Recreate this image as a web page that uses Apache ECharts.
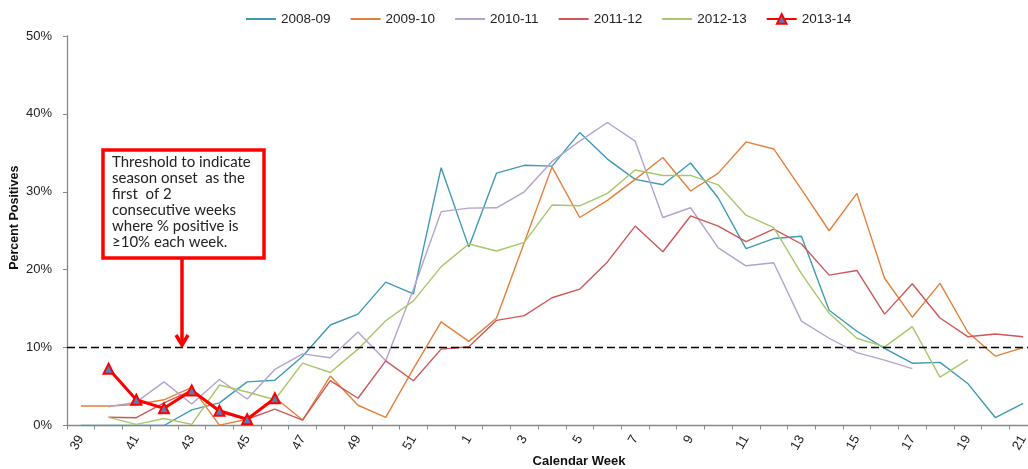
<!DOCTYPE html>
<html>
<head>
<meta charset="utf-8">
<script src="https://cdn.jsdelivr.net/npm/echarts@6/dist/echarts.min.js"></script>
<style>
html,body{margin:0;padding:0;background:#fff;}
#chart{width:1028px;height:469px;}
</style>
</head>
<body>
<div id="chart"></div>
<script>
var weeks = ['39','40','41','42','43','44','45','46','47','48','49','50','51','52',
  '1','2','3','4','5','6','7','8','9','10','11','12','13','14','15','16','17','18','19','20','21'];
var yTicks = [0,10,20,30,40,50];
var seasonNames = ['2008-09','2009-10','2010-11','2011-12','2012-13','2013-14'];
var s0809 = [0,0,0,0,2.0,2.9,5.6,5.8,8.9,12.9,14.3,18.4,16.9,33.1,
  22.9,32.4,33.4,33.3,37.6,34.2,31.6,30.9,33.7,29.2,22.7,24.0,24.3,14.8,12.1,9.9,8.0,8.1,5.4,1.0,2.85];
var s0910 = [2.5,2.5,2.7,3.3,4.9,0.05,0.8,3.6,0.7,6.35,2.6,1.05,7.3,13.3,
  10.8,13.8,23.5,33.2,26.7,28.9,31.6,34.4,30.1,32.4,36.4,35.5,30.3,25.0,29.8,18.9,13.9,18.25,12.0,8.9,10.0];
var s1011 = [null,2.4,3.0,5.6,2.75,5.9,3.4,7.2,9.2,8.7,12.0,8.3,17.5,27.45,
  27.9,27.95,30.0,33.9,36.5,38.9,36.5,26.7,27.95,22.8,20.5,20.9,13.4,11.2,9.35,8.4,7.3,null,null,null,null];
var s1112 = [null,1.05,1.0,2.9,4.5,1.7,0.8,2.1,0.7,5.75,3.5,8.3,5.75,9.8,
  10.1,13.5,14.1,16.4,17.5,21.0,25.6,22.3,26.9,25.6,23.6,25.2,23.3,19.3,19.9,14.3,18.2,13.8,11.4,11.75,11.4];
var s1213 = [null,1.05,0.15,0.9,0.15,5.2,4.3,3.3,8.0,6.8,9.8,13.45,16.0,20.4,
  23.3,22.4,23.5,28.3,28.2,29.8,32.8,32.1,32.1,30.9,27.0,25.4,19.5,14.4,11.2,10.1,12.7,6.2,8.45,null,null];
var s1314 = [null,7.3,3.3,2.2,4.5,1.9,0.8,3.5];
var threshold = 10;
var noteLines = ['Threshold to indicate','season onset  as the','first  of 2','consecutive weeks','where % positive is','\u226510% each week.'];

var colors = ['#3F9AB3','#E4803A','#B4A2CF','#CF5757','#A6C76A','#FF0000'];
var seriesData = [s0809,s0910,s1011,s1112,s1213];

var series = seriesData.map(function(d,i){
  return {
    name: seasonNames[i], type:'line', data:d, symbol:'none', showSymbol:false,
    lineStyle:{color:colors[i], width:1.4}, itemStyle:{color:colors[i]},
    connectNulls:false, z:2
  };
});
series.push({
  name: seasonNames[5], type:'line', data:s1314, symbol:'triangle', symbolSize:10,
  lineStyle:{color:'#FF0000', width:3},
  itemStyle:{color:'#4F81BD', borderColor:'#FF0000', borderWidth:2},
  z:5
});
series[0].markLine = {
  silent:true, symbol:'none', label:{show:false},
  lineStyle:{color:'#000', type:[8,4], width:1.3},
  data:[{yAxis:threshold}]
};

var legendData = seasonNames.map(function(n,i){
  return i < 5 ? {name:n, itemStyle:{opacity:0}} : {name:n};
});

var chart = echarts.init(document.getElementById('chart'));
chart.setOption({
  animation:false,
  textStyle:{fontFamily:'Liberation Sans'},
  legend:{
    left:240, top:7, itemWidth:30, itemHeight:12, itemGap:19,
    textStyle:{fontSize:13.5, color:'#222', fontFamily:'Liberation Sans'},
    data: legendData
  },
  grid:{left:67, top:36, width:970, bottom:43.5, containLabel:false, outerBoundsMode:'none'},
  xAxis:{
    type:'category', data:weeks, boundaryGap:true,
    name:'Calendar Week', nameLocation:'middle', nameGap:29, nameMoveOverlap:false,
    nameTextStyle:{fontSize:13, fontWeight:'bold', color:'#111', padding:[0,0,0,54]},
    axisLine:{lineStyle:{color:'#888', width:1.3}},
    axisTick:{show:true, interval:0, alignWithLabel:false, length:4, lineStyle:{color:'#888'}},
    axisLabel:{interval:1, rotate:60, fontSize:13, color:'#222', margin:11}
  },
  yAxis:{
    type:'value', min:yTicks[0], max:yTicks[yTicks.length-1], interval:10,
    name:'Percent Positives', nameLocation:'middle', nameGap:46, nameMoveOverlap:false,
    nameTextStyle:{fontSize:12.5, fontWeight:'bold', color:'#111', padding:[0,0,0,26]},
    axisLine:{show:true, lineStyle:{color:'#888', width:1.3}},
    axisTick:{show:true, length:4, lineStyle:{color:'#888'}},
    axisLabel:{formatter:'{value}%', fontSize:13, color:'#222', margin:15},
    splitLine:{show:false}
  },
  series: series,
  graphic:[
    {type:'rect', shape:{x:103, y:150, width:161, height:108},
     style:{fill:'#fff', stroke:'#FF0000', lineWidth:3.5}, z:10},
    {type:'text', x:112, y:154, z:11,
     style:{text:noteLines.join('\n'), font:'15px Lato', lineHeight:16, fill:'#222'}},
    {type:'line', shape:{x1:182, y1:259, x2:182, y2:343},
     style:{stroke:'#FF0000', lineWidth:3.5}, z:10},
    {type:'polyline', shape:{points:[[176,335],[182,345],[188,335]]},
     style:{stroke:'#FF0000', lineWidth:3.5, fill:null}, z:10}
  ]
});
</script>
</body>
</html>
